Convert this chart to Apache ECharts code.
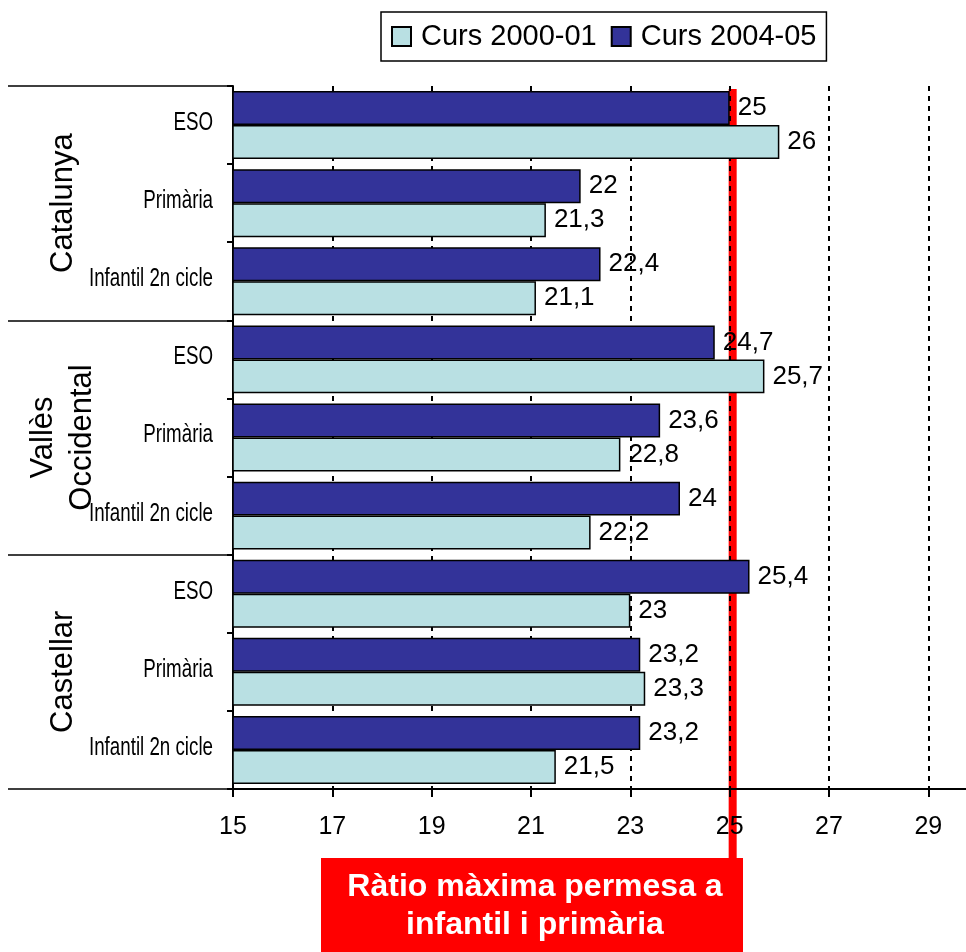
<!DOCTYPE html>
<html>
<head>
<meta charset="utf-8">
<script src="https://cdn.jsdelivr.net/npm/echarts@6/dist/echarts.min.js"></script>
<style>
html,body{margin:0;padding:0;background:#fff;overflow:hidden;width:966px;height:952px;}
#chart{width:978px;height:952px;}
</style>
</head>
<body>
<div id="chart"></div>
<script>
// ---- data ----
const subCategories = ['ESO', 'Primària', 'Infantil 2n cicle', 'ESO', 'Primària', 'Infantil 2n cicle', 'ESO', 'Primària', 'Infantil 2n cicle'];
const groups = ['Catalunya', 'Vallès\nOccidental', 'Castellar'];
const seriesNames = ['Curs 2000-01', 'Curs 2004-05'];
const curs2000 = [26, 21.3, 21.1, 25.7, 22.8, 22.2, 23, 23.3, 21.5];
const curs2004 = [25, 22, 22.4, 24.7, 23.6, 24, 25.4, 23.2, 23.2];
const maxRatio = 25;
const refText = 'Ràtio màxima permesa a\ninfantil i primària';

const FONT = "'Liberation Sans', Arial, sans-serif";

const chart = echarts.init(document.getElementById('chart'), null, {renderer: 'canvas'});

const fmt = p => String(p.value).replace('.', ',');
const labelCfg = {show: true, position: 'right', distance: 8, formatter: fmt, color: '#000', fontSize: 26, fontFamily: FONT};

const GRID_TOP = 86, GRID_BOTTOM = 163;

const option = {
  animation: false,
  backgroundColor: '#fff',
  legend: {
    data: seriesNames,
    left: 381, top: 12,
    padding: [10, 10, 10, 10],
    borderColor: '#000', borderWidth: 1.5,
    itemWidth: 19, itemHeight: 19, itemGap: 14,
    icon: 'rect',
    textStyle: {fontSize: 29, fontFamily: FONT, color: '#000', padding: [0, 0, 0, 5]},
    selectedMode: false
  },
  grid: {left: 233, right: 0, top: GRID_TOP, bottom: GRID_BOTTOM, containLabel: false},
  xAxis: {
    type: 'value', min: 15, max: 30, interval: 2,
    axisLine: {show: true, lineStyle: {color: '#000', width: 2}},
    axisTick: {show: true, length: 8, lineStyle: {color: '#000', width: 2}},
    axisLabel: {fontSize: 25, fontFamily: FONT, color: '#000', margin: 26, showMaxLabel: false},
    splitLine: {show: true, lineStyle: {color: '#000', width: 2, type: [5, 5]}}
  },
  yAxis: [
    {
      type: 'category', data: subCategories, inverse: true,
      axisLine: {show: true, lineStyle: {color: '#000', width: 2}},
      axisTick: {show: true, length: 6, lineStyle: {color: '#000', width: 2}},
      axisLabel: {show: false}
    },
    {
      type: 'category', data: groups, inverse: true, position: 'left', offset: 0,
      axisLine: {show: false},
      axisTick: {show: true, length: 225, lineStyle: {color: '#000', width: 1.5}},
      axisLabel: {fontSize: 31, fontFamily: FONT, color: '#000', rotate: 90, margin: 170,
                  align: 'center', verticalAlign: 'middle', lineHeight: 39}
    }
  ],
  series: [
    {
      name: seriesNames[1], type: 'bar', data: curs2004, yAxisIndex: 0,
      barGap: '0%', barCategoryGap: '13%',
      itemStyle: {color: '#333399', borderColor: '#000', borderWidth: 1.5},
      label: labelCfg
    },
    {
      name: seriesNames[0], type: 'bar', data: curs2000, yAxisIndex: 0,
      barGap: '0%', barCategoryGap: '13%',
      itemStyle: {color: '#b9e0e3', borderColor: '#000', borderWidth: 1.5},
      label: labelCfg
    }
  ]
};
chart.setOption(option);

// category labels (condensed, like Arial Narrow) placed from the axis scale
const axisX = chart.convertToPixel({xAxisIndex: 0}, 15);
const catLabels = subCategories.map((name, i) => ({
  type: 'text', x: axisX - 20, y: chart.convertToPixel({yAxisIndex: 0}, i) - 2,
  scaleX: 0.75, z: 5,
  style: {text: name, fill: '#000', font: "25px 'Liberation Sans', Arial, sans-serif",
          textAlign: 'right', textVerticalAlign: 'middle'}
}));

// the maximum-ratio reference line and its caption box
const px = chart.convertToPixel({xAxisIndex: 0}, maxRatio);
chart.setOption({
  graphic: catLabels.concat([
    {type: 'rect', z: -1, shape: {x: px - 1, y: GRID_TOP + 3, width: 8, height: 858 - GRID_TOP - 3}, style: {fill: '#ff0000'}},
    {type: 'rect', z: 10, shape: {x: 321, y: 858, width: 422, height: 94}, style: {fill: '#ff0000'}},
    {type: 'text', x: 535, y: 906, z: 11,
     style: {text: refText, fill: '#fff', font: "bold 32px 'Liberation Sans', Arial, sans-serif",
             textAlign: 'center', textVerticalAlign: 'middle', lineHeight: 38}}
  ])
});
</script>
</body>
</html>
